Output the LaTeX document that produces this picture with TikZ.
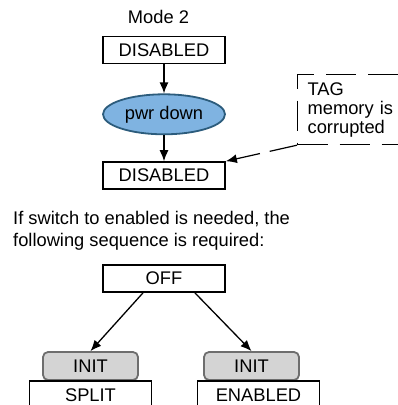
\documentclass[tikz,border=0pt]{standalone}
\usepackage{fontspec}
\setmainfont{Liberation Sans}
\usetikzlibrary{calc}
\usetikzlibrary{positioning}
\usetikzlibrary{arrows.meta}
\usetikzlibrary{shapes.geometric}
\definecolor{PwrFill}{HTML}{7FB3E1}
\definecolor{PwrLine}{HTML}{2C5C7C}
\definecolor{InitFill}{HTML}{D4D4D4}
\definecolor{InitLine}{HTML}{6E6E6E}
\tikzset{
  % one text size for the whole figure
  every node/.style={font=\fontsize{18.3}{19}\selectfont},
  % edges with solid triangular tips
  every edge/.append style={-{Latex[length=11pt,width=9pt]},line width=1.3pt},
}
\tikzset{
  statebox/.style={draw,line width=1.8pt,minimum width=122pt,minimum height=27pt,inner sep=0pt},
  initbox/.style={draw=InitLine,fill=InitFill,line width=1.8pt,rounded corners=5pt,
    minimum width=95pt,minimum height=28pt,inner sep=0pt},
  pwr/.style={ellipse,draw=PwrLine,fill=PwrFill,line width=1.8pt,
    minimum width=122pt,minimum height=40pt,inner sep=0pt},
  % the dashed remark on the right
  note/.style={draw,dash pattern=on 30pt off 12pt,line width=1.2pt,
    text width=121pt,inner xsep=10pt,minimum height=70pt,align=left,
    font=\fontsize{18.3}{19}\selectfont},
  remark/.style={dash pattern=on 28pt off 10pt,line width=1.2pt},
}

\begin{document}
\begin{tikzpicture}[x=1pt,y=1pt]
        \useasboundingbox (0,0) rectangle (398,405);
        \clip (0,0) rectangle (398,405);

        \node (mode) at (158.5,388) {Mode 2};
        \node[statebox] (dis1) at (164,355) {DISABLED};
        \node[pwr, below=29pt of dis1] (down) {pwr down};
        \node[statebox, below=26pt of down] (dis2) {DISABLED};
        \node[note, anchor=north west] (tag) at (297,331) {TAG\\memory is\\corrupted};

        % the sequence for switching
        \node[anchor=north west, align=left, inner sep=0pt,
          font=\fontsize{18.3}{22.5}\selectfont] (hint) at (13,194)
          {If switch to enabled is needed, the\\following sequence is required:};
        \node[statebox] (off) at (164,126.5) {OFF};
        \node[initbox] (initL) at (90.5,39) {INIT};
        \node[initbox] (initR) at (251.5,39) {INIT};
        \node[statebox, minimum height=29pt, below=-1pt of initL] (split) {SPLIT};
        \node[statebox, minimum height=29pt, below=-1pt of initR, xshift=7pt] (enabled) {ENABLED};

        \path
        (dis1) edge (down)
        (down) edge (dis2)
        (tag.south west) edge[remark] (dis2.north east)
        ($(off.south west)!0.33!(off.south east)$) edge (initL.north)
        ($(off.south west)!0.75!(off.south east)$) edge (initR.north)
        ;
      \end{tikzpicture}
\end{document}
